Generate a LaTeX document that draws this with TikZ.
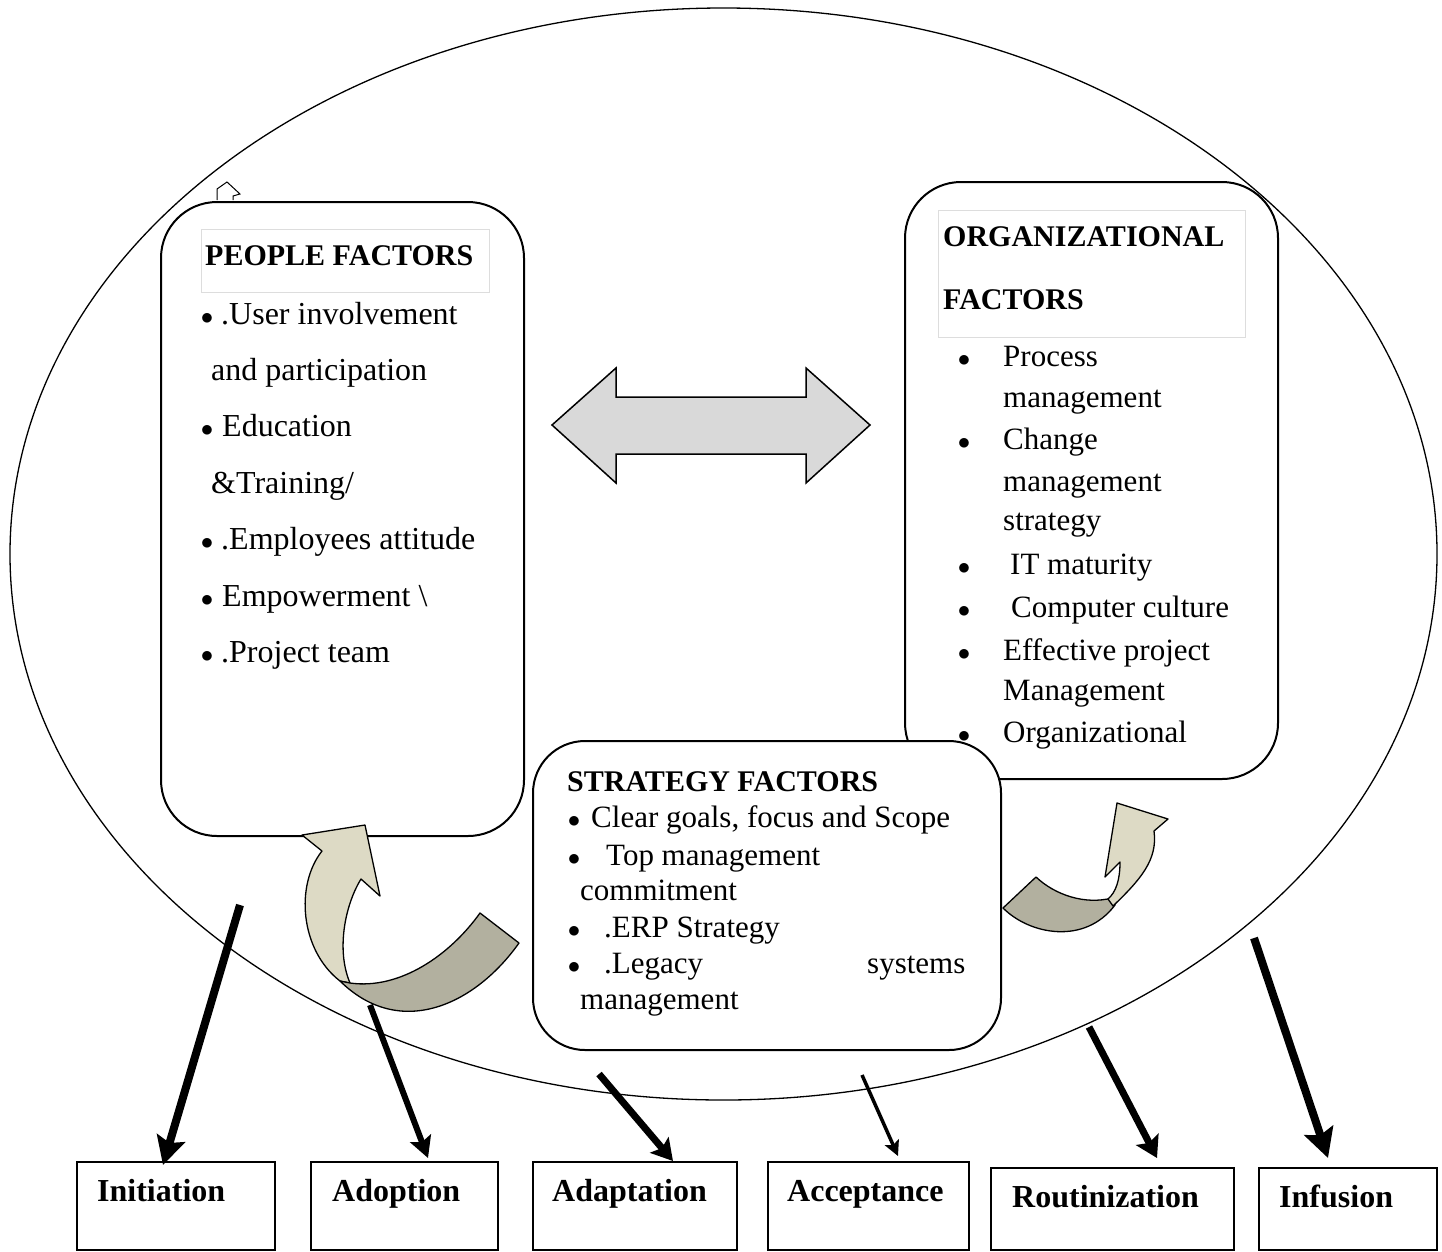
\documentclass[tikz,border=0pt]{standalone}
\usepackage{fontspec}
\setmainfont{Liberation Serif}
\usetikzlibrary{arrows.meta,shapes.geometric}
\definecolor{lightband}{HTML}{DDDAC5}
\definecolor{darkband}{HTML}{B2B09F}
\definecolor{dblfill}{HTML}{D9D9D9}
\definecolor{hdrgray}{HTML}{DDDDDD}
\begin{document}
\begin{tikzpicture}[x=1pt,y=-1pt,
  fbox/.style={draw, line width=2pt, fill=white, rounded corners=56pt, anchor=north west, inner sep=0pt},
  hdrframe/.style={draw=hdrgray, line width=1pt, anchor=north west, inner sep=0pt},
  bodytxt/.style={anchor=base west, inner sep=0pt, font=\fontsize{31}{37}\selectfont},
  bigtxt/.style={anchor=base west, inner sep=0pt, font=\fontsize{32}{38}\selectfont},
  bul/.style={anchor=base, inner sep=0pt, font=\fontsize{31}{37}\selectfont},
  headtxt/.style={anchor=base west, inner sep=0pt, font=\fontsize{30}{34}\selectfont\bfseries},
  stagebox/.style={draw, line width=1.8pt, fill=white, anchor=north west, inner sep=0pt, minimum height=88pt},
  stagetxt/.style={anchor=base west, inner sep=0pt, font=\fontsize{32}{38}\selectfont\bfseries},
  blkarrow/.style={draw=black, line width=7pt},
  band/.style={draw=black, line width=1.3pt, line join=round}
]
\useasboundingbox (0,0) rectangle (1442,1251);

% outer ellipse
\node[draw, ellipse, line width=1.3pt, minimum width=1427pt, minimum height=1092pt, inner sep=0pt] (outer) at (723.5,554) {};

% small icon
\draw[line width=1pt] (217,200) -- (217,189) -- (227,182) -- (240,194) -- (233,196) -- (233,200);

% people box
\node[fbox, minimum width=363pt, minimum height=634pt] (people) at (160,201) {};
\node[hdrframe, minimum width=288pt, minimum height=63pt] (peoplehdr) at (201,229) {};
\node[headtxt] (ph) at (205,265) {PEOPLE FACTORS};
\node[bul] (pb1) at (207,324) {$\bullet$};
\node[bigtxt] (p1) at (221,324) {.User involvement};
\node[bigtxt] (p2) at (211,380) {and participation};
\node[bul] (pb3) at (207,436) {$\bullet$};
\node[bigtxt] (p3) at (222,436) {Education};
\node[bigtxt] (p4) at (211,493) {\&Training/};
\node[bul] (pb5) at (207,549) {$\bullet$};
\node[bigtxt] (p5) at (221,549) {.Employees attitude};
\node[bul] (pb6) at (207,606) {$\bullet$};
\node[bigtxt] (p6) at (222,606) {Empowerment \textbackslash};
\node[bul] (pb7) at (207,662) {$\bullet$};
\node[bigtxt] (p7) at (221,662) {.Project team};

% organizational box
\node[fbox, minimum width=373pt, minimum height=597pt] (org) at (904,181) {};
\node[hdrframe, minimum width=307pt, minimum height=127pt] (orghdr) at (938,210) {};
\node[headtxt] (oh1) at (943,246) {ORGANIZATIONAL};
\node[headtxt] (oh2) at (943,309) {FACTORS};
\node[bul] (ob1) at (964,366) {$\bullet$};
\node[bodytxt] (o1) at (1003,366) {Process};
\node[bodytxt] (o2) at (1003,407) {management};
\node[bul] (ob3) at (964,449) {$\bullet$};
\node[bodytxt] (o3) at (1003,449) {Change};
\node[bodytxt] (o4) at (1003,491) {management};
\node[bodytxt] (o5) at (1003,530) {strategy};
\node[bul] (ob6) at (964,574) {$\bullet$};
\node[bodytxt] (o6) at (1010,574) {IT maturity};
\node[bul] (ob7) at (964,617) {$\bullet$};
\node[bodytxt] (o7) at (1011,617) {Computer culture};
\node[bul] (ob8) at (964,660) {$\bullet$};
\node[bodytxt] (o8) at (1003,660) {Effective project};
\node[bodytxt] (o9) at (1003,700) {Management};
\node[bul] (ob10) at (964,742) {$\bullet$};
\node[bodytxt] (o10) at (1003,742) {Organizational};

% strategy box
\node[fbox, minimum width=468pt, minimum height=309pt, rounded corners=52pt] (strat) at (532,740) {};
\node[headtxt] (sh) at (567,791) {STRATEGY FACTORS};
\node[bul] (sb1) at (574,827) {$\bullet$};
\node[bodytxt] (s1) at (591,827) {Clear goals, focus and Scope};
\node[bul] (sb2) at (574,865) {$\bullet$};
\node[bodytxt] (s2) at (606,865) {Top management};
\node[bodytxt] (s3) at (580,900) {commitment};
\node[bul] (sb4) at (574,937) {$\bullet$};
\node[bodytxt] (s4) at (604,937) {.ERP Strategy};
\node[bul] (sb5) at (574,973) {$\bullet$};
\node[bodytxt] (s5) at (604,973) {.Legacy};
\node[bodytxt] (s5b) at (867,973) {systems};
\node[bodytxt] (s6) at (580,1009) {management};

% double arrow
\draw[fill=dblfill, line width=1.5pt, line join=miter]
  (552,425) -- (616,368) -- (616,397) -- (806,397) -- (806,368) -- (870,425)
  -- (806,483) -- (806,454) -- (616,454) -- (616,483) -- cycle;

% black arrows to stages
\coordinate (a1) at (240,905);
\coordinate (a2) at (370,1005);
\coordinate (a3) at (599,1074);
\coordinate (a4) at (862,1075);
\coordinate (a5) at (1089,1027);
\coordinate (a6) at (1254,938);

% stage boxes
\node[stagebox, minimum width=198pt] (init) at (76,1161) {};
\node[stagebox, minimum width=187pt] (adop) at (310,1161) {};
\node[stagebox, minimum width=204pt] (adap) at (532,1161) {};
\node[stagebox, minimum width=201pt] (acce) at (767,1161) {};
\node[stagebox, minimum width=243pt, minimum height=82pt] (rout) at (990,1167) {};
\node[stagebox, minimum width=178pt, minimum height=82pt] (infu) at (1258,1167) {};
\node[stagetxt] (t1) at (97,1201) {Initiation};
\node[stagetxt] (t2) at (332,1201) {Adoption};
\node[stagetxt] (t3) at (552,1201) {Adaptation};
\node[stagetxt] (t4) at (787,1201) {Acceptance};
\node[stagetxt] (t5) at (1012,1207) {Routinization};
\node[stagetxt] (t6) at (1279,1207) {Infusion};

\draw[blkarrow, line width=8pt, -{Stealth[length=28pt,width=29pt,inset=5pt]}] (a1) -- ([xshift=87pt,yshift=-4pt]init.north west);
\draw[blkarrow, line width=6pt, -{Stealth[length=21pt,width=22pt,inset=4pt]}] (a2) -- ([xshift=118pt,yshift=3pt]adop.north west);
\draw[blkarrow, line width=7pt, -{Stealth[length=21pt,width=24pt,inset=4pt]}] (a3) -- ([xshift=141pt]adap.north west);
\draw[blkarrow, line width=3.5pt, -{Stealth[length=15pt,width=15pt,inset=3pt]}] (a4) -- ([xshift=131pt,yshift=5pt]acce.north west);
\draw[blkarrow, line width=7pt, -{Stealth[length=21pt,width=25pt,inset=4pt]}] (a5) -- ([xshift=167pt,yshift=9pt]rout.north west);
\draw[blkarrow, line width=8pt, -{Stealth[length=29pt,width=30pt,inset=5pt]}] (a6) -- ([xshift=70pt,yshift=9pt]infu.north west);

% left curved arrow (light part then dark part)
\draw[band, fill=lightband]
  (340,981) .. controls (300,950) and (295,885) .. (322,851)
  -- (302,835) -- (365,825) -- (380,896) -- (361,879)
  .. controls (345,905) and (336,950) .. (350,983) -- cycle;
\draw[band, fill=darkband]
  (350,983) .. controls (400,990) and (450,955) .. (480,913)
  -- (519,943)
  .. controls (475,1005) and (400,1040) .. (340,981) -- cycle;

% right curved arrow (dark part then light part)
\draw[band, fill=darkband]
  (1003,908) -- (1036,877)
  .. controls (1055,895) and (1085,905) .. (1112,898)
  -- (1115,905)
  .. controls (1085,945) and (1030,935) .. (1003,908) -- cycle;
\draw[band, fill=lightband]
  (1113,906) .. controls (1140,880) and (1158,860) .. (1154,831)
  -- (1168,819) -- (1117,803) -- (1105,877) -- (1120,862)
  .. controls (1120,880) and (1116,892) .. (1108,899) -- cycle;
\end{tikzpicture}
\end{document}
